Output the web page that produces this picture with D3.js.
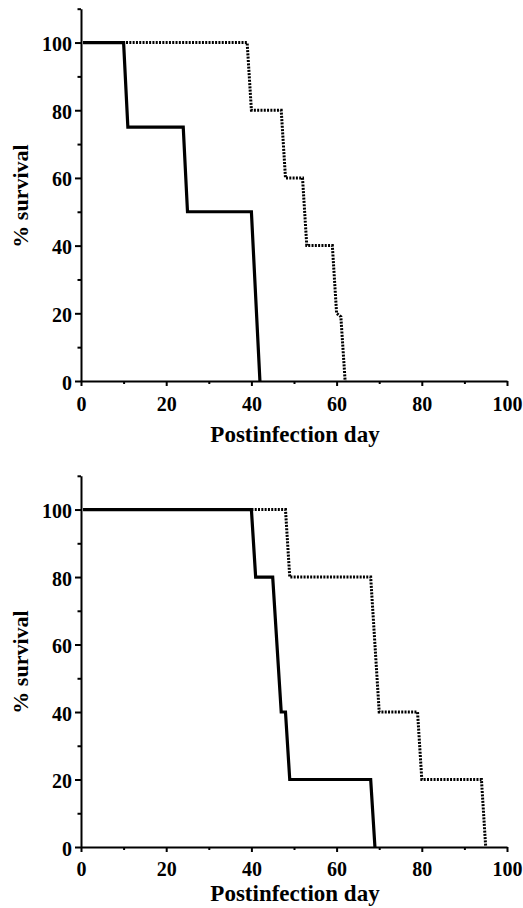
<!DOCTYPE html>
<html>
<head>
<meta charset="utf-8">
<script src="https://cdn.jsdelivr.net/npm/d3@7"></script>
<style>
  html, body { margin: 0; padding: 0; background: #fff; }
  svg { display: block; }
  text { font-family: "Liberation Serif", "Times New Roman", serif; font-weight: bold; fill: #000; }
</style>
</head>
<body>
<svg id="chart" width="523" height="908"></svg>
<script>
// ---- Data ----
const xTicks = [0, 20, 40, 60, 80, 100];
const xMinorTicks = [10, 30, 50, 70, 90];
const yTicks = [0, 20, 40, 60, 80, 100];
const yMinorTicks = [10, 30, 50, 70, 90, 110];
const xLabel = "Postinfection day";
const yLabel = "% survival";

// Panel A
const topSolidDays = [0.5, 10, 11, 24, 25, 40, 42];
const topSolidSurvival = [100, 100, 75, 75, 50, 50, 0];
const topDottedDays = [0.5, 39, 40, 47, 48, 52, 53, 59, 60, 61, 62];
const topDottedSurvival = [100, 100, 80, 80, 60, 60, 40, 40, 20, 19, 0];

// Panel B
const botSolidDays = [0.5, 40, 41, 45, 47, 48, 49, 68, 69];
const botSolidSurvival = [100, 100, 80, 80, 40, 40, 20, 20, 0];
const botDottedDays = [0.5, 48, 49, 68, 70, 79, 80, 94, 95];
const botDottedSurvival = [100, 100, 80, 80, 40, 40, 20, 20, 0];

const svg = d3.select("#chart");

function panel(cfg) {
  const x = d3.scaleLinear().domain([0, 100]).range([cfg.left, cfg.right]);
  const y = d3.scaleLinear().domain([0, 110]).range([cfg.bottom, cfg.top]);
  const g = svg.append("g");

  // x axis
  const xAxis = d3.axisBottom(x).tickValues(xTicks).tickSize(5).tickSizeOuter(0).tickFormat(d3.format("d")).tickPadding(10);
  const gx = g.append("g").attr("transform", `translate(0,${cfg.bottom})`).call(xAxis);
  gx.select(".domain").attr("stroke", "#000").attr("stroke-width", 2);
  gx.selectAll(".tick line").attr("stroke", "#000").attr("stroke-width", 2);
  gx.selectAll(".tick text").attr("font-size", 20).attr("dy", null).attr("y", cfg.xLabelBase);
  const gxm = g.append("g").attr("transform", `translate(0,${cfg.bottom})`)
    .call(d3.axisBottom(x).tickValues(xMinorTicks).tickSize(3).tickFormat(""));
  gxm.select(".domain").remove();
  gxm.selectAll(".tick line").attr("stroke", "#000").attr("stroke-width", 2);

  // y axis
  const yAxis = d3.axisLeft(y).tickValues(yTicks).tickSize(6).tickSizeOuter(0).tickFormat(d3.format("d")).tickPadding(4);
  const gy = g.append("g").attr("transform", `translate(${cfg.left},0)`).call(yAxis);
  gy.select(".domain").attr("stroke", "#000").attr("stroke-width", 2);
  gy.selectAll(".tick line").attr("stroke", "#000").attr("stroke-width", 2);
  gy.selectAll(".tick text").attr("font-size", 20).attr("x", -9).attr("dy", "0.4em");
  const gym = g.append("g").attr("transform", `translate(${cfg.left},0)`)
    .call(d3.axisLeft(y).tickValues(yMinorTicks).tickSize(3.5).tickFormat(""));
  gym.select(".domain").remove();
  gym.selectAll(".tick line").attr("stroke", "#000").attr("stroke-width", 2);

  // labels
  g.append("text").attr("x", (cfg.left + cfg.right) / 2 + 1).attr("y", cfg.titleBase)
    .attr("text-anchor", "middle").attr("font-size", 23).text(xLabel);
  g.append("text").attr("transform", `translate(28,${cfg.yLabelCenter}) rotate(-90)`)
    .attr("text-anchor", "middle").attr("font-size", 22).text(yLabel);

  const line = d3.line().x(d => x(d[0])).y(d => y(d[1]));
  const solid = d3.zip(cfg.solidDays, cfg.solidSurv);
  const dotted = d3.zip(cfg.dottedDays, cfg.dottedSurv);
  g.append("path").datum(dotted).attr("d", line).attr("fill", "none")
    .attr("stroke", "#000").attr("stroke-width", 3).attr("stroke-dasharray", "2,1.3");
  g.append("path").datum(solid).attr("d", line).attr("fill", "none")
    .attr("stroke", "#000").attr("stroke-width", 3.2).attr("stroke-linejoin", "miter");
}

panel({ left: 81, right: 507, top: 8.7, bottom: 381, xLabelBase: 30, titleBase: 442, yLabelCenter: 196,
  solidDays: topSolidDays, solidSurv: topSolidSurvival, dottedDays: topDottedDays, dottedSurv: topDottedSurvival });
panel({ left: 81, right: 507, top: 475.8, bottom: 847, xLabelBase: 29, titleBase: 901, yLabelCenter: 662,
  solidDays: botSolidDays, solidSurv: botSolidSurvival, dottedDays: botDottedDays, dottedSurv: botDottedSurvival });
</script>
</body>
</html>
